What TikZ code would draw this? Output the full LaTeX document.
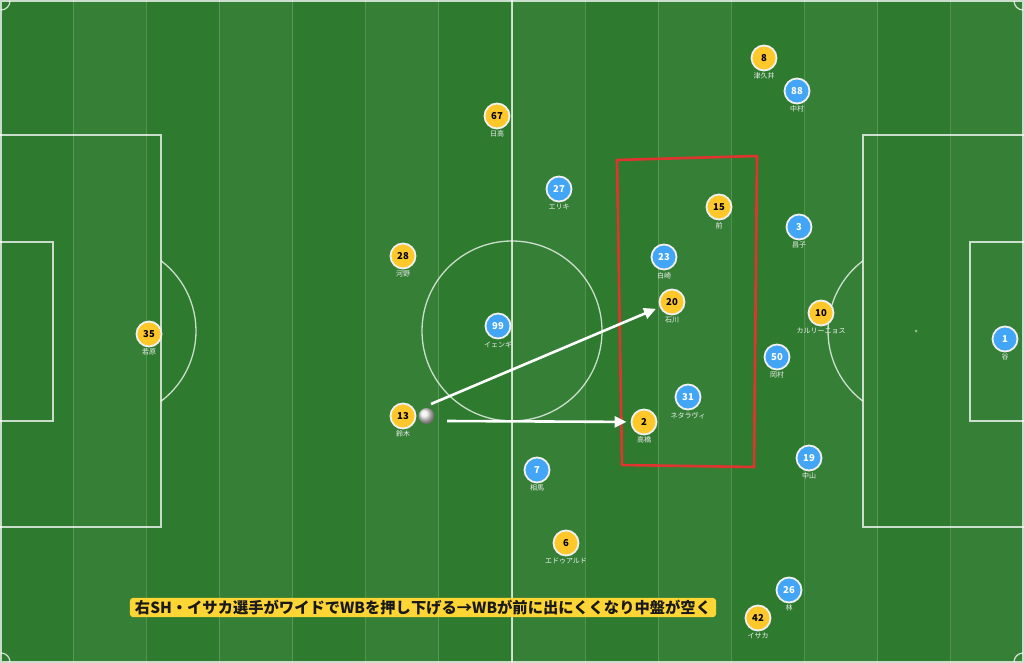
\documentclass[tikz,border=0pt]{standalone}
\usepackage{fontspec}
\newfontfamily\cjk{Noto Sans CJK JP}
\usetikzlibrary{positioning, arrows.meta}

\definecolor{turfdark}{HTML}{2E7A2E}
\definecolor{turflight}{HTML}{367F37}
\definecolor{homeyel}{HTML}{FFC82A}
\definecolor{awayblu}{HTML}{42A5F5}
\definecolor{notebg}{HTML}{FDD535}
\definecolor{markred}{HTML}{E0352F}

\begin{document}
\begin{tikzpicture} [ x=1pt, y=-1pt
                    , font=\cjk
                    , chalk/.style={draw=white, draw opacity=0.75, line width=1.3pt}
                    , seam/.style={draw=white, draw opacity=0.18, line width=0.8pt}
                    , ypl/.style={circle, minimum size=25pt, inner sep=0pt, fill=homeyel, draw=white!88!gray, line width=1.8pt, text=black, font=\cjk\fontsize{9.5}{10}\selectfont\bfseries}
                    , bpl/.style={circle, minimum size=25pt, inner sep=0pt, fill=awayblu, draw=white!88!gray, line width=1.8pt, text=white, font=\cjk\fontsize{9.5}{10}\selectfont\bfseries}
                    , nm/.style={inner sep=0.5pt, text=white!88!gray, font=\cjk\fontsize{7}{8}\selectfont}
                    , pass/.style={draw=white, line width=2.6pt, -{Triangle[length=12pt,width=11pt]}, shorten >=4pt}
                    ]

  \useasboundingbox (0,0) rectangle (1024,663);

  % --- Pitch -----------------------------------------------------------------
  \fill [turfdark] (0,0) rectangle (1024,663);
  \foreach \i in {1,3,...,13}
    \fill [turflight] (\i*73.143,0) rectangle ++(73.143,663);
  \foreach \i in {1,...,13}
    \draw [seam] (\i*73.143,0) -- ++(0,663);

  \draw [chalk] (1,1) rectangle (1023,662);
  \draw [chalk] (512,0) -- (512,663);
  \draw [chalk] (512,331) circle (90);
  \draw [chalk] (1,1) ++(0:9) arc (0:90:9);
  \draw [chalk] (1023,1) ++(180:9) arc (180:90:9);
  \draw [chalk] (1,662) ++(0:9) arc (0:-90:9);
  \draw [chalk] (1023,662) ++(180:9) arc (180:270:9);
  \draw [chalk] (0,135) -- (161,135) -- (161,527) -- (0,527);
  \draw [chalk] (0,242) -- (53,242) -- (53,421) -- (0,421);
  \draw [chalk] (108,331) ++(-53:88) arc (-53:53:88);
  \draw [chalk] (1024,135) -- (863,135) -- (863,527) -- (1024,527);
  \draw [chalk] (1024,242) -- (970,242) -- (970,421) -- (1024,421);
  \draw [chalk] (916,331) ++(127:88) arc (127:233:88);
  \fill [white, opacity=0.5] (916,331) circle (1.5);
  % ---------------------------------------------------------------------------

  % --- Marked zone -----------------------------------------------------------
  \draw [markred, line width=2.6pt, line join=round]
        (617,160) -- (757,156) -- (754,467) -- (622,465) -- cycle;
  % ---------------------------------------------------------------------------

  % --- Yellow side -----------------------------------------------------------
  \node [ypl, at={(764,58)}]  (P8)  {8};
  \node [nm, below=1pt of P8]  (N8)  {津久井};
  \node [ypl, at={(497,116)}] (P67) {67};
  \node [nm, below=1pt of P67] (N67) {日高};
  \node [ypl, at={(719,207)}] (P15) {15};
  \node [nm, below=1pt of P15] (N15) {前};
  \node [ypl, at={(403,256)}] (P28) {28};
  \node [nm, below=1pt of P28] (N28) {河野};
  \node [ypl, at={(672,302)}] (P20) {20};
  \node [nm, below=1pt of P20] (N20) {石川};
  \node [ypl, at={(821,313)}] (P10) {10};
  \node [nm, below=1pt of P10] (N10) {カルリーニョス};
  \node [ypl, at={(149,334)}] (P35) {35};
  \node [nm, below=1pt of P35] (N35) {若原};
  \node [ypl, at={(403,416)}] (P13) {13};
  \node [nm, below=1pt of P13] (N13) {鈴木};
  \node [ypl, at={(644,422)}] (P2)  {2};
  \node [nm, below=1pt of P2]  (N2)  {高橋};
  \node [ypl, at={(566,543)}] (P6)  {6};
  \node [nm, below=1pt of P6]  (N6)  {エドゥアルド};
  \node [ypl, at={(758,618)}] (P42) {42};
  \node [nm, below=1pt of P42] (N42) {イサカ};
  % ---------------------------------------------------------------------------

  % --- Blue side -------------------------------------------------------------
  \node [bpl, at={(797,91)}]  (P88) {88};
  \node [nm, below=1pt of P88] (N88) {中村};
  \node [bpl, at={(559,189)}] (P27) {27};
  \node [nm, below=1pt of P27] (N27) {エリキ};
  \node [bpl, at={(799,227)}] (P3)  {3};
  \node [nm, below=1pt of P3]  (N3)  {昌子};
  \node [bpl, at={(664,257)}] (P23) {23};
  \node [nm, below=1pt of P23] (N23) {白崎};
  \node [bpl, at={(498,326)}] (P99) {99};
  \node [nm, below=1pt of P99] (N99) {イェンギ};
  \node [bpl, at={(1005,339)}] (P1) {1};
  \node [nm, below=1pt of P1]  (N1)  {谷};
  \node [bpl, at={(777,357)}] (P50) {50};
  \node [nm, below=1pt of P50] (N50) {岡村};
  \node [bpl, at={(688,397)}] (P31) {31};
  \node [nm, below=1pt of P31] (N31) {ネタラヴィ};
  \node [bpl, at={(809,458)}] (P19) {19};
  \node [nm, below=1pt of P19] (N19) {中山};
  \node [bpl, at={(537,470)}] (P7)  {7};
  \node [nm, below=1pt of P7]  (N7)  {相馬};
  \node [bpl, at={(789,590)}] (P26) {26};
  \node [nm, below=1pt of P26] (N26) {林};
  % ---------------------------------------------------------------------------

  % --- Ball and passes -------------------------------------------------------
  \node [ circle
        , minimum size=16pt
        , inner sep=0pt
        , shading=ball
        , ball color=white!85!gray
        , right=2pt of P13
        ]
        (ball) {};

  \coordinate (k1) at (431,404);
  \coordinate (k2) at (447,421);
  \draw [pass] (k1) -- (P20);
  \draw [pass] (k2) -- (P2);
  % ---------------------------------------------------------------------------

  % --- Caption ---------------------------------------------------------------
  \node [ fill=notebg
        , rounded corners=3pt
        , inner xsep=5pt
        , inner ysep=2pt
        , text=black!90
        , font=\cjk\fontsize{15.3}{16}\selectfont\bfseries
        , at={(423,607.5)}
        ]
        (note) {右SH・イサカ選手がワイドでWBを押し下げる→WBが前に出にくくなり中盤が空く};
  % ---------------------------------------------------------------------------
\end{tikzpicture}
\end{document}
